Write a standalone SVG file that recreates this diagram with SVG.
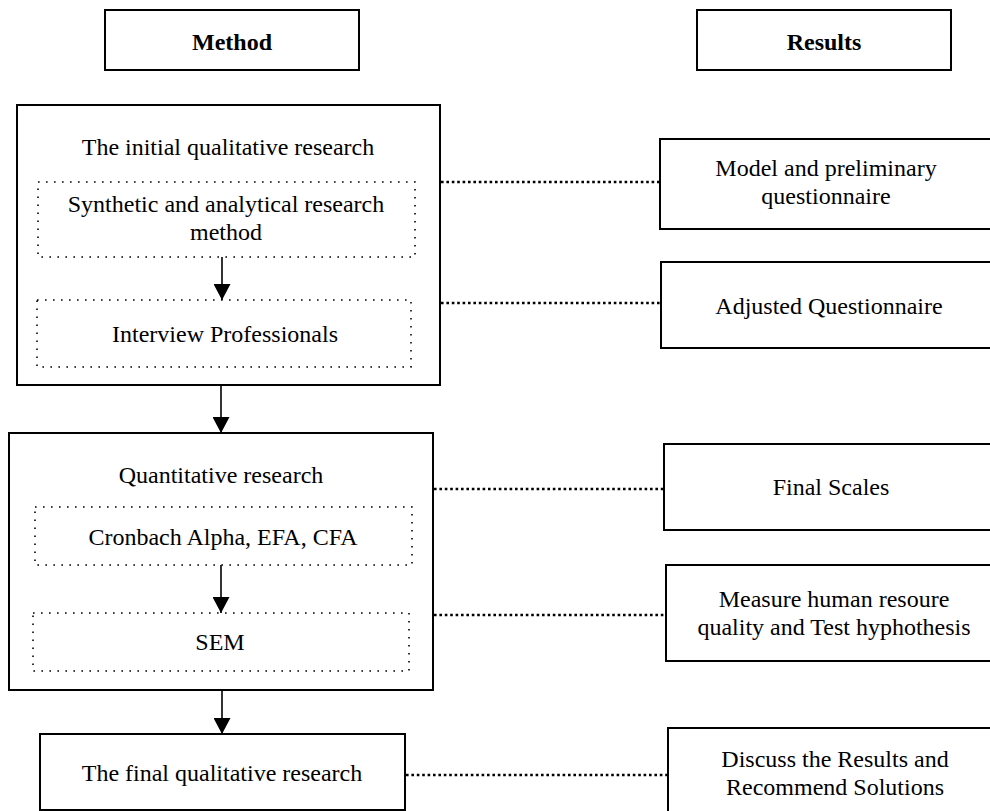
<svg xmlns="http://www.w3.org/2000/svg" width="990" height="811" viewBox="0 0 990 811">
<style>
  .box { fill: #fff; stroke: #000; stroke-width: 2; }
  .dot { fill: none; stroke: #000; stroke-width: 1.6; stroke-dasharray: 1.6 6.4; }
  .link { fill: none; stroke: #000; stroke-width: 2.4; stroke-dasharray: 2.6 2.8; }
  .arrow { fill: none; stroke: #000; stroke-width: 1.6; marker-end: url(#ah); }
  text { font-family: "Liberation Serif", "Times New Roman", serif; font-size: 24px; fill: #000; text-anchor: middle; }
  .bold { font-weight: bold; }
</style>
<defs>
  <marker id="ah" viewBox="0 0 16 17" refX="16" refY="8.5" markerWidth="16" markerHeight="17" markerUnits="userSpaceOnUse" orient="auto">
    <path d="M0,0 L16,8.5 L0,17 Z" fill="#000"/>
  </marker>
</defs>
<rect width="990" height="811" fill="#fff"/>

<g id="method">
  <rect class="box" x="105" y="10" width="254" height="60"/>
  <text class="bold" x="232" y="50">Method</text>
</g>
<g id="results">
  <rect class="box" x="697" y="10" width="254" height="60"/>
  <text class="bold" x="824" y="50">Results</text>
</g>

<g id="initial-qualitative">
  <rect class="box" x="17" y="105" width="423" height="280"/>
  <text x="228" y="155">The initial qualitative research</text>
</g>
<g id="synthetic">
  <rect class="dot" x="38" y="182" width="377" height="75"/>
  <text x="226" y="212">Synthetic and analytical research</text>
  <text x="226" y="240">method</text>
</g>
<g id="interview">
  <rect class="dot" x="37" y="300" width="374" height="67"/>
  <text x="225" y="342">Interview Professionals</text>
</g>

<g id="quantitative">
  <rect class="box" x="9" y="433" width="424" height="257"/>
  <text x="221" y="483">Quantitative research</text>
</g>
<g id="cronbach">
  <rect class="dot" x="35" y="507" width="377" height="58"/>
  <text x="223" y="545">Cronbach Alpha, EFA, CFA</text>
</g>
<g id="sem">
  <rect class="dot" x="33" y="613" width="376" height="58"/>
  <text x="220" y="650">SEM</text>
</g>

<g id="final-qualitative">
  <rect class="box" x="40" y="734" width="365" height="76"/>
  <text x="222" y="781">The final qualitative research</text>
</g>

<g id="model-questionnaire">
  <rect class="box" x="660" y="139" width="335" height="90"/>
  <text x="826" y="176">Model and preliminary</text>
  <text x="826" y="204">questionnaire</text>
</g>
<g id="adjusted-questionnaire">
  <rect class="box" x="661" y="262" width="335" height="86"/>
  <text x="829" y="314">Adjusted Questionnaire</text>
</g>
<g id="final-scales">
  <rect class="box" x="664" y="444" width="335" height="86"/>
  <text x="831" y="495">Final Scales</text>
</g>
<g id="measure">
  <rect class="box" x="666" y="565" width="335" height="96"/>
  <text x="834" y="607">Measure human resoure</text>
  <text x="834" y="635">quality and Test hyphothesis</text>
</g>
<g id="discuss">
  <rect class="box" x="668" y="728" width="335" height="100"/>
  <text x="835" y="767">Discuss the Results and</text>
  <text x="835" y="795">Recommend Solutions</text>
</g>

<g id="connectors">
  <line class="arrow" x1="222" y1="257" x2="222" y2="300"/>
  <line class="arrow" x1="221" y1="385" x2="221" y2="433"/>
  <line class="arrow" x1="221" y1="565" x2="221" y2="613"/>
  <line class="arrow" x1="222" y1="690" x2="222" y2="734"/>
  <line class="link" x1="441" y1="182" x2="660" y2="182"/>
  <line class="link" x1="441" y1="303" x2="661" y2="303"/>
  <line class="link" x1="434" y1="489" x2="664" y2="489"/>
  <line class="link" x1="434" y1="615" x2="666" y2="615"/>
  <line class="link" x1="406" y1="775" x2="668" y2="775"/>
</g>
</svg>
